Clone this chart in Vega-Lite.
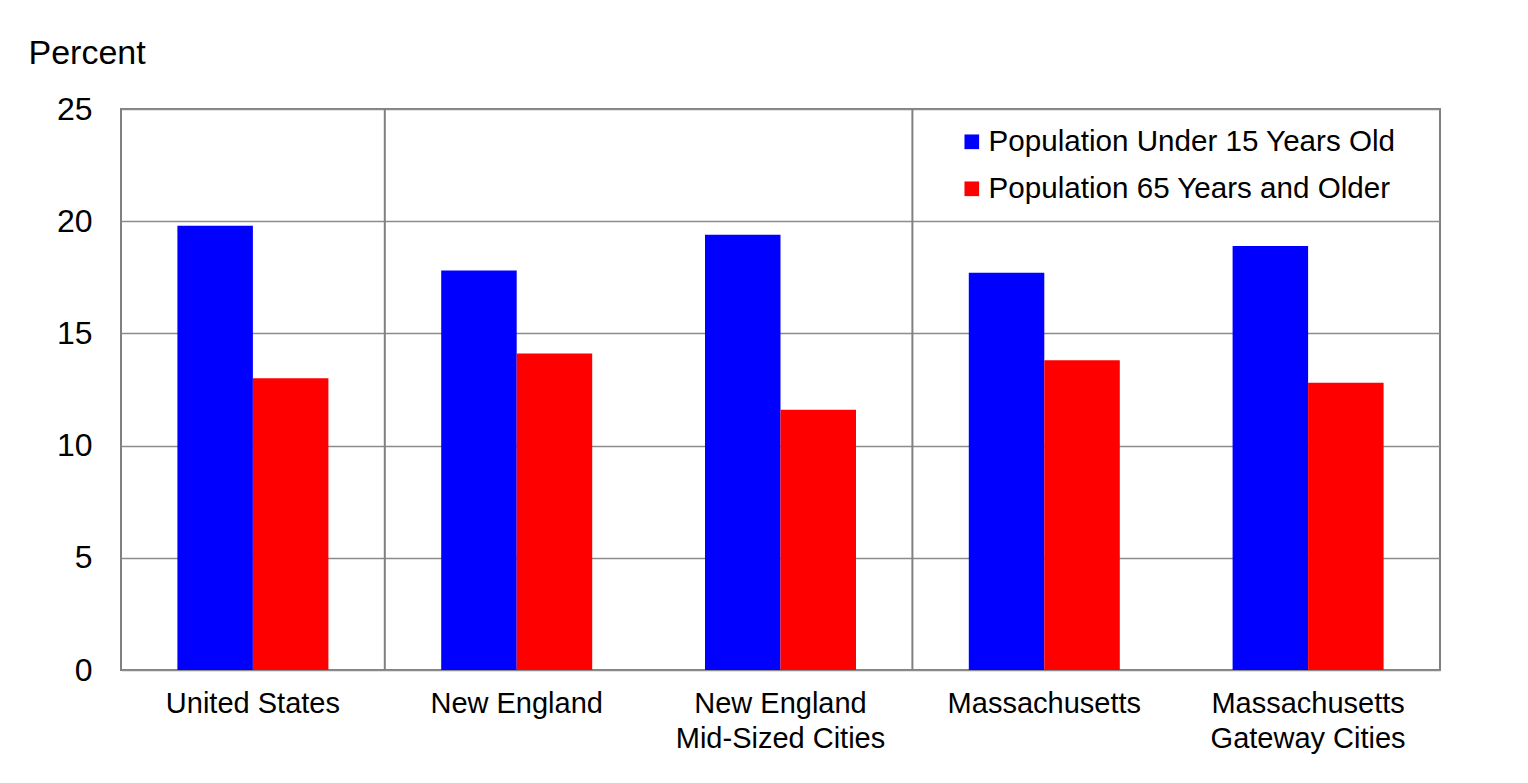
{
  "$schema": "https://vega.github.io/schema/vega-lite/v6.json",
  "autosize": {"type": "none"},
  "padding": {"left": 121, "top": 109, "right": 88, "bottom": 113},
  "width": 1319,
  "height": 561,
  "background": "white",
  "config": {
    "font": "Liberation Sans",
    "view": {"stroke": "#808080", "strokeWidth": 2},
    "axis": {"labelColor": "#000000", "titleColor": "#000000", "labelFont": "Liberation Sans", "titleFont": "Liberation Sans"},
    "legend": {"labelFont": "Liberation Sans", "labelColor": "#000000"}
  },
  "datasets": {
    "bars": [
      {"region": "United States", "series": "Population Under 15 Years Old", "percent": 19.8},
      {"region": "United States", "series": "Population 65 Years and Older", "percent": 13.0},
      {"region": "New England", "series": "Population Under 15 Years Old", "percent": 17.8},
      {"region": "New England", "series": "Population 65 Years and Older", "percent": 14.1},
      {"region": "New England Mid-Sized Cities", "series": "Population Under 15 Years Old", "percent": 19.4},
      {"region": "New England Mid-Sized Cities", "series": "Population 65 Years and Older", "percent": 11.6},
      {"region": "Massachusetts", "series": "Population Under 15 Years Old", "percent": 17.7},
      {"region": "Massachusetts", "series": "Population 65 Years and Older", "percent": 13.8},
      {"region": "Massachusetts Gateway Cities", "series": "Population Under 15 Years Old", "percent": 18.9},
      {"region": "Massachusetts Gateway Cities", "series": "Population 65 Years and Older", "percent": 12.8}
    ],
    "separators": [
      {"region": "New England"},
      {"region": "Massachusetts"}
    ]
  },
  "layer": [
    {
      "data": {"name": "bars"},
      "mark": {"type": "bar"},
      "encoding": {
        "x": {
          "field": "region",
          "type": "nominal",
          "scale": {
            "domain": ["United States", "New England", "New England Mid-Sized Cities", "Massachusetts", "Massachusetts Gateway Cities"],
            "paddingInner": 0,
            "paddingOuter": 0
          },
          "axis": {
            "title": null,
            "domain": false,
            "ticks": false,
            "labelAngle": 0,
            "labelFontSize": 29,
            "labelLineHeight": 35,
            "labelPadding": 19,
            "labelBaseline": "top",
            "labelLimit": 0,
            "labelExpr": "datum.label == 'New England Mid-Sized Cities' ? ['New England', 'Mid-Sized Cities'] : datum.label == 'Massachusetts Gateway Cities' ? ['Massachusetts', 'Gateway Cities'] : datum.label"
          }
        },
        "xOffset": {
          "field": "series",
          "type": "nominal",
          "sort": ["Population Under 15 Years Old", "Population 65 Years and Older"],
          "scale": {"paddingInner": 0, "paddingOuter": 0.747}
        },
        "y": {
          "field": "percent",
          "type": "quantitative",
          "scale": {"domain": [0, 25], "nice": false},
          "axis": {
            "title": "Percent",
            "titleAngle": 0,
            "titleAlign": "left",
            "titleBaseline": "alphabetic",
            "titleX": -93,
            "titleY": -46,
            "titleFontSize": 34,
            "titleFontWeight": "normal",
            "values": [0, 5, 10, 15, 20, 25],
            "domain": false,
            "ticks": false,
            "labelFontSize": 32,
            "labelPadding": 29,
            "grid": true,
            "gridColor": "#8c8c8c",
            "gridWidth": 1.5
          }
        },
        "color": {
          "field": "series",
          "type": "nominal",
          "scale": {
            "domain": ["Population Under 15 Years Old", "Population 65 Years and Older"],
            "range": ["#0000FF", "#FF0000"]
          },
          "legend": {
            "title": null,
            "orient": "none",
            "legendX": 836,
            "legendY": 18,
            "symbolType": "square",
            "symbolSize": 215,
            "symbolStrokeWidth": 0,
            "labelFontSize": 29.6,
            "labelOffset": 2,
            "labelLimit": 0,
            "rowPadding": 16,
            "padding": 0
          }
        }
      }
    },
    {
      "data": {"name": "separators"},
      "mark": {"type": "rule", "color": "#808080", "strokeWidth": 2},
      "encoding": {
        "x": {"field": "region", "type": "nominal", "bandPosition": 0}
      }
    }
  ]
}
